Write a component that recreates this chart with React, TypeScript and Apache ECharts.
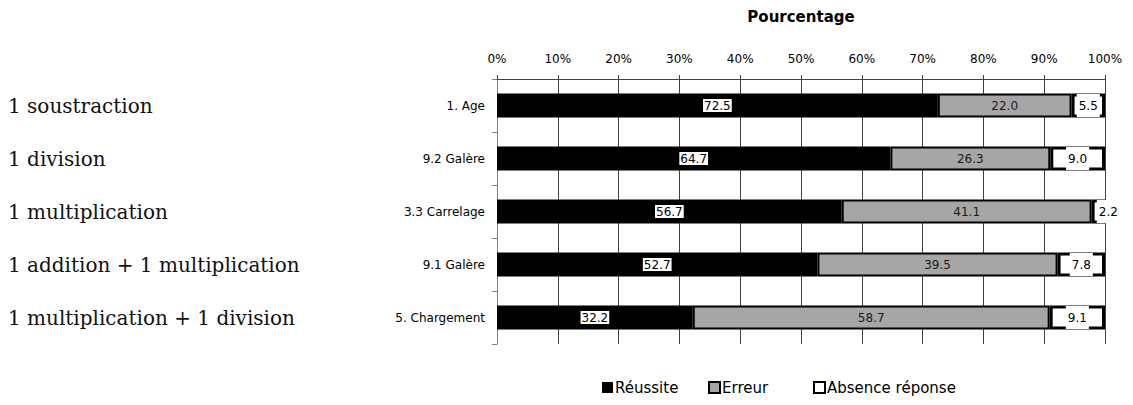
import React, { useEffect, useRef } from "react";
import * as echarts from "echarts";

// Items, top to bottom
const items = ["1. Age", "9.2 Galère", "3.3 Carrelage", "9.1 Galère", "5. Chargement"];
// Operations required by each item
const operations = [
  "1 soustraction",
  "1 division",
  "1 multiplication",
  "1 addition + 1 multiplication",
  "1 multiplication + 1 division",
];
const reussite = [72.5, 64.7, 56.7, 52.7, 32.2];
const erreur = [22.0, 26.3, 41.1, 39.5, 58.7];
const absence = [5.5, 9.0, 2.2, 7.8, 9.1];
const xTicks = [0, 10, 20, 30, 40, 50, 60, 70, 80, 90, 100];

const SANS = "DejaVu Sans";

// Legend entries: name, swatch style, left edge
const legendEntries = [
  { name: "Réussite", style: { color: "#000", borderWidth: 0 }, left: 597 },
  { name: "Erreur", style: { color: "#a6a6a6", borderColor: "#000", borderWidth: 2 }, left: 703 },
  { name: "Absence réponse", style: { color: "#fff", borderColor: "#000", borderWidth: 2 }, left: 808 },
];

export default function App() {
  const ref = useRef<HTMLDivElement>(null);

  useEffect(() => {
    if (!ref.current) return;
    const chart = echarts.init(ref.current, undefined, { renderer: "svg" });

    const fmt = (p: any) => Number(p.value).toFixed(1);

    chart.setOption({
      animation: false,
      backgroundColor: "#ffffff",
      textStyle: { fontFamily: SANS },
      grid: { left: 497, right: 28, top: 79, bottom: 61, containLabel: false },
      legend: legendEntries.map((e) => ({
        left: e.left,
        top: 375,
        icon: "rect",
        itemWidth: 11,
        itemHeight: 11,
        textStyle: { fontFamily: SANS, fontSize: 15, color: "#000", padding: [0, 0, 0, -3] },
        data: [{ name: e.name, itemStyle: e.style }],
      })),
      xAxis: {
        type: "value",
        position: "top",
        min: 0,
        max: 100,
        interval: 10,
        name: "Pourcentage",
        nameLocation: "middle",
        nameGap: 55,
        nameTextStyle: { fontFamily: SANS, fontSize: 15, fontWeight: "bold", color: "#000" },
        axisLine: { show: true, lineStyle: { color: "#404040", width: 1 } },
        axisTick: { show: true, inside: false, length: 4, lineStyle: { color: "#404040" } },
        axisLabel: {
          margin: 14,
          fontFamily: SANS,
          fontSize: 12,
          color: "#000",
          formatter: (v: number) => (xTicks.includes(v) ? `${v}%` : ""),
        },
        splitLine: { show: true, lineStyle: { color: "#404040", width: 1 } },
      },
      yAxis: [
        {
          type: "category",
          inverse: true,
          data: items,
          axisLine: { show: true, lineStyle: { color: "#808080", width: 1 } },
          axisTick: { show: true, length: 5, lineStyle: { color: "#808080" } },
          axisLabel: { margin: 12, fontFamily: SANS, fontSize: 12, color: "#000" },
        },
        {
          type: "category",
          inverse: true,
          position: "left",
          data: operations,
          axisLine: { show: false },
          axisTick: { show: false },
          axisLabel: {
            align: "left",
            margin: 489,
            fontFamily: "DejaVu Serif",
            fontSize: 20,
            color: "#111",
          },
        },
      ],
      series: [
        {
          name: "Réussite",
          type: "bar",
          stack: "total",
          barWidth: 24,
          data: reussite,
          itemStyle: { color: "#000" },
          label: {
            show: true,
            position: "inside",
            formatter: fmt,
            fontFamily: SANS,
            fontSize: 12,
            color: "#000",
            backgroundColor: "#fff",
            padding: [1, 1, 0, 1],
          },
        },
        {
          name: "Erreur",
          type: "bar",
          stack: "total",
          barWidth: 24,
          data: erreur,
          itemStyle: { color: "#a6a6a6", borderColor: "#000", borderWidth: 2 },
          label: {
            show: true,
            position: "inside",
            formatter: fmt,
            fontFamily: SANS,
            fontSize: 12,
            color: "#1a1a1a",
          },
        },
        {
          name: "Absence réponse",
          type: "bar",
          stack: "total",
          barWidth: 24,
          data: absence.map((v) =>
            v < 4 ? { value: v, label: { offset: [10, 0] } } : v
          ),
          itemStyle: { color: "#fff", borderColor: "#000", borderWidth: 3 },
          label: {
            show: true,
            position: "inside",
            formatter: fmt,
            fontFamily: SANS,
            fontSize: 12,
            color: "#000",
            backgroundColor: "#fff",
            padding: [6, 2, 5, 2],
          },
        },
      ],
    });

    return () => chart.dispose();
  }, []);

  return (
    <div
      ref={ref}
      style={{ position: "fixed", left: 0, top: 0, width: 1133, height: 405 }}
    />
  );
}
